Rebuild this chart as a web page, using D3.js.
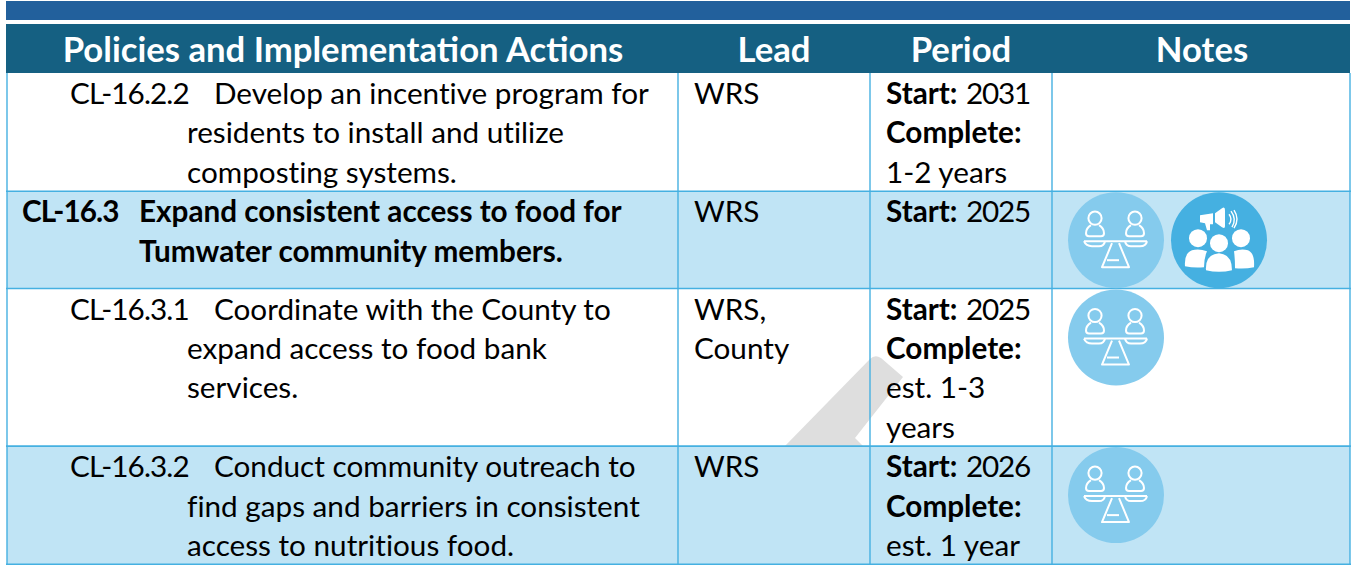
<!DOCTYPE html>
<html lang="en">
<head>
<meta charset="UTF-8">
<title>Policies and Implementation Actions</title>
<script src="https://d3js.org/d3.v7.min.js"></script>
<style>
    html, body { margin: 0; padding: 0; background: #fff; }
    svg { display: block; font-family: Lato, sans-serif; }
    .cell { font-size: 29.7px; fill: #000; font-variant-ligatures: none; }
    .code { letter-spacing: -0.9px; }
    .year { letter-spacing: -1.2px; }
    .head { font-size: 34.7px; font-weight: 700; fill: #fff; text-anchor: middle; }
    .b { font-weight: 700; }
</style>
</head>
<body>
<div id="chart"></div>
<script>
const width = 1351, height = 565;

// table content, one entry per row
const headers = ["Policies and Implementation Actions", "Lead", "Period", "Notes"];
const codes = ["CL-16.2.2", "CL-16.3", "CL-16.3.1", "CL-16.3.2"];
const actions = [
    ["Develop an incentive program for", "residents to install and utilize", "composting systems."],
    ["Expand consistent access to food for", "Tumwater community members."],
    ["Coordinate with the County to", "expand access to food bank", "services."],
    ["Conduct community outreach to", "find gaps and barriers in consistent", "access to nutritious food."]
];
const leads = [["WRS"], ["WRS"], ["WRS,", "County"], ["WRS"]];
const periods = [
    [["Start:", "2031"], ["Complete:", ""], ["", "1-2 years"]],
    [["Start:", "2025"]],
    [["Start:", "2025"], ["Complete:", ""], ["", "est. 1-3"], ["", "years"]],
    [["Start:", "2026"], ["Complete:", ""], ["", "est. 1 year"]]
];
const notes = [[], ["equity", "outreach"], ["equity"], ["equity"]];
const rowLines = [3, 2.47, 4, 3];   // row height in text lines
const shaded = [false, true, false, true];
const isPolicy = [false, true, false, false];

const svg = d3.select("#chart").append("svg").attr("width", width).attr("height", height);

const lineH = 39.4;
const rowTop = d3.cumsum([73, ...rowLines.map(n => n * lineH)]);
const colX = [7, 678, 870, 1052, 1350];
const headX = [343, 774, 961, 1202];

// banner + header
svg.append("rect").attr("x", 6).attr("y", 1).attr("width", 1344).attr("height", 19).attr("fill", "#22609c");
svg.append("rect").attr("x", 6).attr("y", 24).attr("width", 1344).attr("height", 49).attr("fill", "#156082");
svg.selectAll("text.head").data(headers).join("text")
    .attr("class", "head").attr("x", (d, i) => headX[i]).attr("y", 62).text(d => d);

// row backgrounds
svg.selectAll("rect.row").data(codes).join("rect")
    .attr("class", "row").attr("x", colX[0]).attr("width", colX[4] - colX[0])
    .attr("y", (d, i) => rowTop[i]).attr("height", (d, i) => rowTop[i + 1] - rowTop[i])
    .attr("fill", (d, i) => shaded[i] ? "#c0e4f5" : "#fff");

// grey watermark fragment behind the text
svg.append("path")
    .attr("d", "M785,446L870,359Q875,354 881,358L903,377L855,438L863,446Z")
    .attr("fill", "#dedede");

// grid lines
svg.selectAll("line.h").data(rowTop.slice(1)).join("line")
    .attr("class", "h").attr("x1", colX[0] - 1).attr("x2", colX[4] + 1)
    .attr("y1", d => d).attr("y2", d => d)
    .attr("stroke", "#45b0e1").attr("stroke-width", 1.6);
svg.selectAll("line.v").data(colX).join("line")
    .attr("class", "v").attr("x1", d => d).attr("x2", d => d)
    .attr("y1", 73).attr("y2", rowTop[4])
    .attr("stroke", "#45b0e1").attr("stroke-width", 1.4);

const rows = svg.selectAll("g.r").data(codes).join("g").attr("class", "r")
    .attr("transform", (d, i) => `translate(0,${rowTop[i] + 31})`);

// first column: code then wrapped action text
rows.append("text").attr("class", (d, i) => "cell code" + (isPolicy[i] ? " b" : ""))
    .attr("x", (d, i) => isPolicy[i] ? 22 : 70).text(d => d);
rows.each(function (d, i) {
    d3.select(this).selectAll("text.act").data(actions[i]).join("text")
        .attr("class", "cell act" + (isPolicy[i] ? " b" : ""))
        .attr("x", (t, j) => isPolicy[i] ? 139 : (j === 0 ? 214 : 187))
        .attr("y", (t, j) => j * lineH).text(t => t);
    d3.select(this).selectAll("text.lead").data(leads[i]).join("text")
        .attr("class", "cell lead").attr("x", 694).attr("y", (t, j) => j * lineH).text(t => t);
    const p = d3.select(this).selectAll("g.per").data(periods[i]).join("g").attr("class", "per")
        .attr("transform", (t, j) => `translate(0,${j * lineH})`);
    p.append("text").attr("class", "cell b").attr("x", 886).text(t => t[0]);
    p.append("text").attr("class", t => "cell" + (t[0] ? " year" : ""))
        .attr("x", t => t[0] ? 966 : 886).text(t => t[1]);
});

// note icons
function equityIcon(g) {
    g.append("circle").attr("r", 48).attr("fill", "#85cbed");
    const s = g.append("g").attr("fill", "none").attr("stroke", "#fff").attr("stroke-width", 2).attr("stroke-linejoin", "round");
    [-21, 19].forEach(x => {
        s.append("circle").attr("cx", x).attr("cy", -22).attr("r", 6.6);
        s.append("path").attr("d", `M${x - 4},-15Q${x - 9},-12 ${x - 9},-7Q${x - 9},-4 ${x - 6},-4H${x + 6}Q${x + 9},-4 ${x + 9},-7Q${x + 9},-12 ${x + 4},-15`);
    });
    s.append("path").attr("d", "M-32,1H31");
    s.append("path").attr("d", "M-32,1Q-30,6 -24,6H-17Q-12,6 -11,1");
    s.append("path").attr("d", "M9,1Q10,6 15,6H24Q30,6 31,1");
    s.append("path").attr("d", "M-4,3L-14,27H13L3,3");
    s.append("path").attr("d", "M-9,20H3");
}
function outreachIcon(g) {
    g.append("circle").attr("r", 48).attr("fill", "#45b0e1");
    const s = g.append("g").attr("fill", "#fff");
    [[-21, -2, 9], [0, 3, 9], [22, -2, 9]].forEach(([x, y, r]) => {
        s.append("circle").attr("cx", x).attr("cy", y).attr("r", r);
    });
    s.append("path").attr("d", "M-34,26Q-35,13 -27,10Q-20,8 -12,11Q-15,18 -15,27Q-25,28 -34,26Z");
    s.append("path").attr("d", "M35,27Q36,13 29,10Q22,8 15,11Q16,18 16,28Q26,29 35,27Z");
    s.append("path").attr("d", "M-13,30Q-14,14 0,13Q13,14 13,30Q0,33 -13,30Z");
    s.append("path").attr("d", "M-19,-25L-6,-27V-16L-9,-16L-9,-10L-12,-10L-14,-17L-19,-18Z");
    s.append("path").attr("d", "M-4,-27L3,-32Q6,-34 6,-30V-14Q6,-11 3,-13L-4,-18Z");
    const w = g.append("g").attr("fill", "none").attr("stroke", "#fff").attr("stroke-width", 1.4);
    w.append("path").attr("d", "M10,-26Q14,-21 10,-16");
    w.append("path").attr("d", "M12,-29Q18,-21 13,-13");
    w.append("path").attr("d", "M15,-30Q21,-21 15,-12");
}
const iconDraw = { equity: equityIcon, outreach: outreachIcon };
rows.each(function (d, i) {
    notes[i].forEach((n, j) => {
        const g = svg.append("g").attr("transform", `translate(${1116 + j * 103},${rowTop[i] + 49})`);
        iconDraw[n](g);
    });
});
</script>
</body>
</html>
